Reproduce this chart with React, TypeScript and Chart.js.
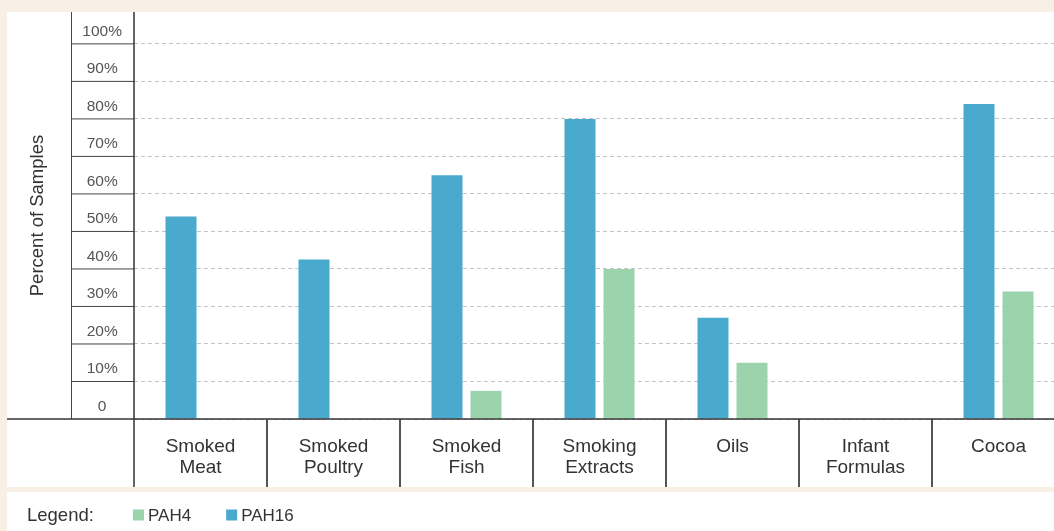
import React, { useEffect, useRef } from 'react';
import { Chart, registerables } from 'chart.js';

Chart.register(...registerables);

// ---- data ----
const categories: string[][] = [
  ['Smoked', 'Meat'],
  ['Smoked', 'Poultry'],
  ['Smoked', 'Fish'],
  ['Smoking', 'Extracts'],
  ['Oils'],
  ['Infant', 'Formulas'],
  ['Cocoa'],
];
const pah16Values = [54, 42.5, 65, 80, 27, 0, 84];
const pah4Values = [0, 0, 7.5, 40, 15, 0, 34];
const yTickValues = [0, 10, 20, 30, 40, 50, 60, 70, 80, 90, 100];
const yTickLabels = ['0', '10%', '20%', '30%', '40%', '50%', '60%', '70%', '80%', '90%', '100%'];
const seriesNames = ['PAH16', 'PAH4'];
const seriesColors = ['#4aaacd', '#9bd3ad'];
const yTitle = 'Percent of Samples';
const legendPrefix = 'Legend:';

const FONT = '"Liberation Sans", Arial, Helvetica, sans-serif';
const BEIGE = '#f8efe5';

const framePlugin = {
  id: 'frame',
  beforeDraw(chart: any) {
    const { ctx, width, height } = chart;
    ctx.save();
    ctx.fillStyle = BEIGE;
    ctx.fillRect(0, 0, width, height);
    ctx.fillStyle = '#ffffff';
    ctx.fillRect(7, 12, width - 7, 487 - 12);
    ctx.fillRect(7, 492, width - 7, height - 492);
    ctx.restore();
  },
  afterDraw(chart: any) {
    const { ctx, chartArea, scales, width } = chart;
    const x = scales.x;
    const y = scales.y;
    const axisY = chartArea.bottom;
    const colLeft = 71.5;
    ctx.save();
    // label column lines
    ctx.strokeStyle = '#444';
    ctx.lineWidth = 1;
    ctx.beginPath();
    ctx.moveTo(colLeft, 12);
    ctx.lineTo(colLeft, axisY);
    yTickValues.forEach((v) => {
      if (v === 0) return;
      const py = y.getPixelForValue(v);
      ctx.moveTo(colLeft, py);
      ctx.lineTo(chartArea.left, py);
    });
    ctx.stroke();
    // category dividers
    ctx.strokeStyle = '#555';
    ctx.lineWidth = 2;
    ctx.beginPath();
    for (let i = 0; i < categories.length - 1; i++) {
      const bx = (x.getPixelForTick(i) + x.getPixelForTick(i + 1)) / 2;
      ctx.moveTo(bx, axisY);
      ctx.lineTo(bx, 487);
    }
    ctx.stroke();
    // y axis line
    ctx.strokeStyle = '#333';
    ctx.lineWidth = 1.5;
    ctx.beginPath();
    ctx.moveTo(chartArea.left, 12);
    ctx.lineTo(chartArea.left, 487);
    ctx.stroke();
    // x axis line
    ctx.beginPath();
    ctx.moveTo(7, axisY);
    ctx.lineTo(width, axisY);
    ctx.stroke();

    // legend
    ctx.textBaseline = 'alphabetic';
    ctx.textAlign = 'left';
    ctx.fillStyle = '#333';
    ctx.font = `18.5px ${FONT}`;
    ctx.fillText(legendPrefix, 27, 521);
    ctx.font = `17px ${FONT}`;
    let lx = 133;
    const ds = chart.data.datasets.slice().reverse();
    ds.forEach((d: any) => {
      ctx.fillStyle = d.backgroundColor;
      ctx.fillRect(lx, 509.5, 11, 11);
      ctx.fillStyle = '#333';
      ctx.fillText(d.label, lx + 15, 521);
      lx += 15 + ctx.measureText(d.label).width + 35;
    });
    ctx.restore();
  },
};

export default function App() {
  const ref = useRef<HTMLCanvasElement | null>(null);
  useEffect(() => {
    if (!ref.current) return;
    const chart = new Chart(ref.current, {
      type: 'bar',
      data: {
        labels: categories as any,
        datasets: [
          {
            label: seriesNames[0],
            data: pah16Values,
            backgroundColor: seriesColors[0],
            borderWidth: 0,
            categoryPercentage: 0.5865,
            barPercentage: 0.795,
          },
          {
            label: seriesNames[1],
            data: pah4Values,
            backgroundColor: seriesColors[1],
            borderWidth: 0,
            categoryPercentage: 0.5865,
            barPercentage: 0.795,
          },
        ],
      },
      options: {
        animation: false,
        responsive: false,
        devicePixelRatio: 1,
        layout: { padding: { left: 27, top: 12, right: 5, bottom: 44 } },
        plugins: { legend: { display: false }, tooltip: { enabled: false } },
        scales: {
          x: {
            type: 'category',
            offset: true,
            grid: { display: false, drawTicks: false },
            border: { display: false },
            ticks: {
              font: { family: FONT, size: 19, lineHeight: 1.08 },
              color: '#333',
              padding: 18,
              maxRotation: 0,
              minRotation: 0,
              autoSkip: false,
            },
            afterFit: (s: any) => {
              s.height = 68;
              s.paddingLeft = 0;
              s.paddingRight = 0;
            },
          },
          y: {
            min: 0,
            max: 108.5,
            afterBuildTicks: (s: any) => {
              s.ticks = yTickValues.map((v) => ({ value: v }));
            },
            afterFit: (s: any) => {
              s.width = 107;
              s.paddingTop = 0;
              s.paddingBottom = 0;
            },
            grid: { color: '#c4c4c4', lineWidth: 1, drawTicks: false },
            border: { display: false, dash: [4, 3] },
            ticks: {
              callback: (v: any) => yTickLabels[yTickValues.indexOf(Number(v))],
              font: { family: FONT, size: 15.5 },
              color: '#555',
              crossAlign: 'center',
              padding: 12,
              labelOffset: -12.5,
            },
            title: {
              display: true,
              text: yTitle,
              font: { family: FONT, size: 18.5, lineHeight: 1.2 },
              color: '#333',
              padding: { top: 0, bottom: 0 },
            },
          },
        },
      } as any,
      plugins: [framePlugin],
    });
    return () => chart.destroy();
  }, []);

  return (
    <div
      style={{
        position: 'fixed',
        left: 0,
        top: 0,
        width: 1054,
        height: 531,
        overflow: 'hidden',
        background: BEIGE,
      }}
    >
      <canvas ref={ref} width={1070} height={531} style={{ display: 'block' }} />
    </div>
  );
}
